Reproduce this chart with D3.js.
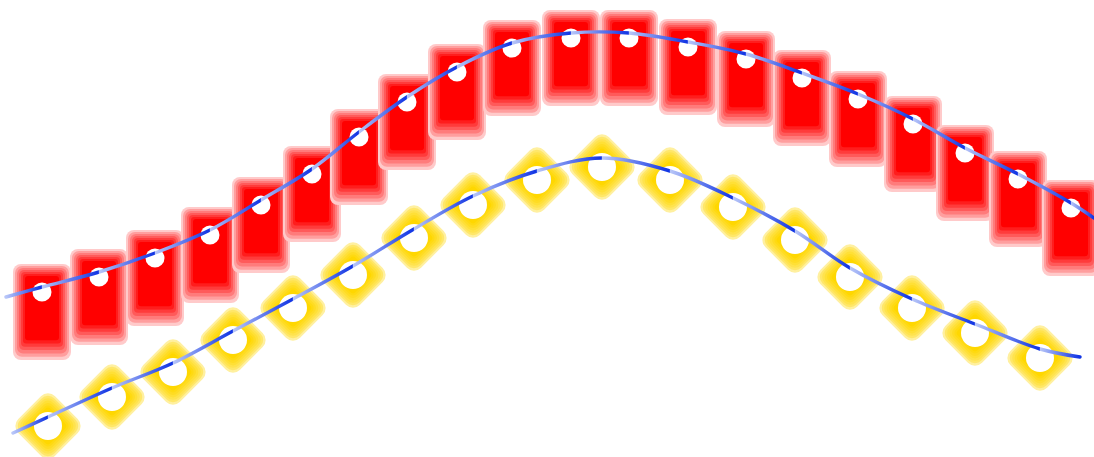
<!DOCTYPE html>
<html>
<head>
<meta charset="utf-8">
<script src="https://cdn.jsdelivr.net/npm/d3@7"></script>
<style>
  body { margin: 0; background: #fff; }
  svg { display: block; }
</style>
</head>
<body>
<div class="chart"></div>
<script>
// red series (rect symbols)
const redX = [42, 99, 155, 210, 261, 312, 359, 407, 457, 512, 571, 629, 688, 746, 802, 858, 913, 965, 1018, 1071];
const redY = [165, 180, 199, 222, 252, 283, 320, 355, 385, 409, 419, 419, 410, 398, 379, 358, 333, 304, 278, 249];
const redLineStart = [6, 155];
const redLineEnd = [1094, 234];

// yellow series (diamond symbols)
const yellowX = [48, 112, 173, 233, 293, 353, 414, 473, 537, 602, 670, 733, 795, 850, 912, 975, 1040];
const yellowY = [31, 60, 85, 117, 149, 182, 219, 252, 277, 290, 277, 250, 217, 180, 149, 124, 99];
const yellowLineStart = [13, 15];
const yellowLineEnd = [1080, 91];

const width = 1094, height = 457;

const svg = d3.select(".chart").append("svg")
    .attr("width", width)
    .attr("height", height);

svg.append("rect").attr("width", width).attr("height", height).attr("fill", "#fff");

const xScale = d3.scaleLinear().domain([0, 1094]).range([0, width]);
const yScale = d3.scaleLinear().domain([0, 457]).range([height, 0]);

const defs = svg.append("defs");

const rectW = 58, rectH = 96, rectTop = -28;
const diaS = 52;
const bands = 7;

// gradient along x: light right after each point, dark just before the next
function segGradient(id, xs) {
    const g = defs.append("linearGradient").attr("id", id)
        .attr("gradientUnits", "userSpaceOnUse")
        .attr("x1", 0).attr("x2", width).attr("y1", 0).attr("y2", 0);
    for (let i = 0; i < xs.length - 1; i++) {
        g.append("stop").attr("offset", xScale(xs[i]) / width).attr("stop-color", "#b8c6f8");
        g.append("stop").attr("offset", (xScale(xs[i + 1]) - 0.6) / width).attr("stop-color", "#1034e4");
    }
}

const line = d3.line()
    .x(d => xScale(d[0]))
    .y(d => yScale(d[1]))
    .curve(d3.curveCatmullRom.alpha(0.5));

const redBand = d3.interpolateRgb("#ffcaca", "#ff0000");
const yellowBand = d3.interpolateRgb("#fff0a0", "#ffd700");

function drawSeries(xs, ys, start, end, kind, lineDy, gradId) {
    const pts = xs.map((x, i) => [x, ys[i]]);
    const lpts = [start].concat(pts, [end]);

    const sym = svg.append("g").selectAll("g")
        .data(pts)
        .enter().append("g")
        .attr("transform", d => "translate(" + xScale(d[0]) + "," + yScale(d[1]) + ")");

    d3.range(bands).forEach(k => {
        if (kind == "rect") {
            const t = Math.pow(k / (bands - 1), 0.85);
            const side = k * 2, bottom = k * 3.3;
            sym.append("rect")
                .attr("x", -rectW / 2 + side).attr("y", rectTop + side)
                .attr("width", rectW - 2 * side).attr("height", rectH - side - bottom)
                .attr("rx", Math.max(8 - k, 3))
                .attr("fill", redBand(t));
        } else {
            const t = Math.pow(k / (bands - 1), 0.6);
            const inset = k * 2;
            sym.append("rect")
                .attr("x", -diaS / 2 + inset).attr("y", -diaS / 2 + inset)
                .attr("width", diaS - 2 * inset).attr("height", diaS - 2 * inset)
                .attr("rx", Math.max(10 - k, 3))
                .attr("transform", "rotate(45)")
                .attr("fill", yellowBand(t));
        }
    });

    sym.append("circle")
        .attr("r", kind == "rect" ? 9.5 : 14)
        .attr("fill", "#fff");

    segGradient(gradId, lpts.map(d => d[0]));
    svg.append("path")
        .datum(lpts)
        .attr("d", line)
        .attr("transform", "translate(0," + lineDy + ")")
        .attr("fill", "none")
        .attr("stroke", "url(#" + gradId + ")")
        .attr("stroke-width", 3.4)
        .attr("stroke-linecap", "round");
}

drawSeries(redX, redY, redLineStart, redLineEnd, "rect", -5, "gradRed");
drawSeries(yellowX, yellowY, yellowLineStart, yellowLineEnd, "diamond", -9, "gradYellow");
</script>
</body>
</html>
